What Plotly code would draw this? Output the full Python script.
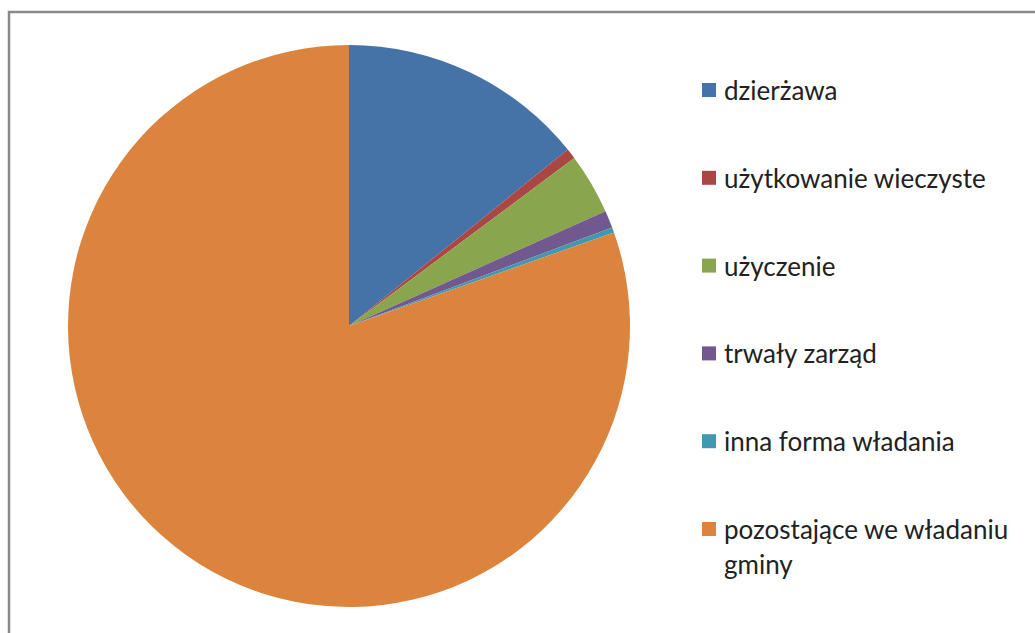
import plotly.graph_objects as go

labels = ["dzierżawa", "użytkowanie wieczyste", "użyczenie", "trwały zarząd",
          "inna forma władania", "pozostające we władaniu<br>gminy"]
values = [14.2, 0.6, 3.5, 1.0, 0.3, 80.4]
colors = ["#4572A7", "#AA4643", "#89A54E", "#71588F", "#4198AF", "#DB843D"]

W, H = 1035, 633
FONT = "Lato"

fig = go.Figure()
fig.add_trace(go.Pie(
    labels=[l.replace("<br>", " ") for l in labels], values=values,
    marker=dict(colors=colors, line=dict(width=0)),
    sort=False, direction="clockwise", rotation=0,
    textinfo="none", hoverinfo="label+percent",
    showlegend=False,
    domain=dict(x=[68 / W, 630 / W], y=[1 - 607 / H, 1 - 45 / H]),
))

# border of chart area
fig.add_shape(type="rect", xref="paper", yref="paper",
              x0=9 / W, x1=1.05, y0=-0.05, y1=1 - 12 / H,
              line=dict(color="#8a8a8a", width=2.5), fillcolor="rgba(0,0,0,0)")

# manual legend
y0, step = 90, 87.8
for i, (lab, col) in enumerate(zip(labels, colors)):
    yc = y0 + i * step
    fig.add_shape(type="rect", xref="paper", yref="paper",
                  x0=702 / W, x1=716 / W, y0=1 - (yc + 7) / H, y1=1 - (yc - 7) / H,
                  line=dict(width=0), fillcolor=col)
    for j, line in enumerate(lab.split("<br>")):
        fig.add_annotation(xref="paper", yref="paper", x=722 / W, y=1 - (yc + j * 35) / H,
                           xanchor="left", yanchor="middle", showarrow=False,
                           text=line, font=dict(family=FONT, size=26, color="#222222"))

fig.update_layout(width=W, height=H, margin=dict(l=0, r=0, t=0, b=0),
                  paper_bgcolor="white", plot_bgcolor="white")
fig.write_html("out.html", config={"displayModeBar": False},
               post_script="document.body.style.margin='0';document.body.style.overflow='hidden';")
